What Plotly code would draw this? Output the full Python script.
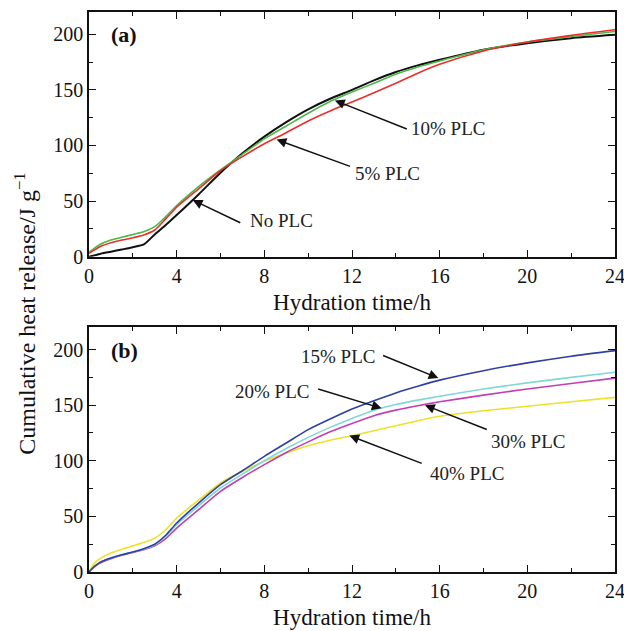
import plotly.graph_objects as go

# ---- Panel (a) data ----
t_a = [0, 0.5, 1, 1.5, 2, 2.5, 3, 3.5, 4, 5, 6, 7, 8, 9, 10, 11, 12, 13, 14, 15, 16, 18, 20, 22, 24]
no_plc = [0, 2.5, 4.5, 6.5, 8.5, 11, 20, 28.5, 37.5, 56, 75.5, 93, 108, 121, 132.5, 142, 150, 158.5, 166, 172, 177, 186, 192, 196.5, 199.5]
plc_5 = [3, 9, 12.5, 15, 17, 19.5, 24, 34, 44.5, 61, 77.5, 90, 101.5, 111.5, 122, 131, 139, 147.5, 156, 165, 173, 185, 193, 199, 204]
plc_10 = [4, 11, 15, 17.5, 20, 22.5, 27, 36, 46, 63, 78, 92, 106, 117.5, 129, 139.5, 148, 156, 164, 170.5, 176, 186, 193, 198, 202.5]

# ---- Panel (b) data ----
t_b = [0, 0.25, 0.5, 1, 1.5, 2, 2.5, 3, 3.5, 4, 5, 6, 7, 8, 9, 10, 11, 12, 13, 14, 15, 16, 18, 20, 22, 24]
plc_15 = [0, 5, 8.5, 12.5, 15.5, 18, 21, 25, 33, 44, 62, 78.5, 91, 104, 116, 128, 137.5, 146.5, 154, 161, 167, 172.5, 181, 188, 194, 199]
plc_20 = [0, 5, 8.5, 12.5, 15.5, 18, 20.5, 24.5, 32, 42.5, 59.5, 75.5, 88, 100, 111, 121, 130, 138, 145.5, 150.5, 154.5, 158, 164.5, 170, 175, 179.6]
plc_30 = [0, 4.5, 8, 12, 15, 17.5, 20, 23.5, 30, 39.5, 56, 72.5, 85, 96.5, 107.5, 117, 126, 133.5, 140.5, 145.5, 149.5, 153, 159, 164.5, 169.5, 174.3]
plc_40 = [0, 8, 12, 17, 20.5, 23.5, 26.5, 30.5, 38, 48.5, 64.5, 80, 90.5, 99.5, 107, 113.5, 118.5, 122.5, 127, 131.5, 136, 140, 145, 149, 153, 157]

x_ticks = [0, 4, 8, 12, 16, 20, 24]
y_ticks = [0, 50, 100, 150, 200]

# annotations: (label, text_x, text_y, arrow_tail_x, arrow_tail_y, head_x, head_y)
ann_a = [
    ("No PLC", 8.8, 32.9, 6.97, 29.9, 4.73, 50.9),
    ("5% PLC", 13.64, 74.8, 11.98, 80.7, 8.56, 105.3),
    ("10% PLC", 16.38, 115.2, 14.57, 114.3, 11.22, 140.5),
]
ann_b = [
    ("15% PLC", 11.36, 193.4, 13.35, 195.2, 15.94, 174.3),
    ("20% PLC", 8.35, 162.0, 10.39, 165.0, 13.35, 147.1),
    ("30% PLC", 20.03, 117.1, 18.22, 127.6, 15.33, 150.0),
    ("40% PLC", 17.23, 88.8, 15.25, 97.1, 11.88, 122.6),
]

FONT = "Liberation Serif"

fig = go.Figure()

def add_line(x, y, color, width, xa, ya, name):
    fig.add_trace(go.Scatter(x=x, y=y, mode="lines", name=name,
                             line=dict(color=color, width=width, shape="spline", smoothing=0.6),
                             xaxis=xa, yaxis=ya, showlegend=False))

add_line(t_a, no_plc, "#111111", 2.0, "x", "y", "No PLC")
add_line(t_a, plc_10, "#4cb848", 1.6, "x", "y", "10% PLC")
add_line(t_a, plc_5, "#e8302a", 1.6, "x", "y", "5% PLC")

add_line(t_b, plc_40, "#ece22a", 1.6, "x2", "y2", "40% PLC")
add_line(t_b, plc_30, "#c040b0", 1.6, "x2", "y2", "30% PLC")
add_line(t_b, plc_20, "#80d8d4", 1.6, "x2", "y2", "20% PLC")
add_line(t_b, plc_15, "#2e40a0", 1.6, "x2", "y2", "15% PLC")

annotations = []
for group, (xr, yr) in ((ann_a, ("x", "y")), (ann_b, ("x2", "y2"))):
    for lab, tx, ty, ax, ay, hx, hy in group:
        annotations.append(dict(x=tx, y=ty, xref=xr, yref=yr, text=lab, showarrow=False,
                                font=dict(family=FONT, size=19, color="#222")))
        annotations.append(dict(x=hx, y=hy, ax=ax, ay=ay, xref=xr, yref=yr, axref=xr, ayref=yr,
                                text="", showarrow=True, arrowhead=2, arrowsize=1.3,
                                arrowwidth=1.5, arrowcolor="#111"))

annotations.append(dict(x=1.6, y=199.5, xref="x", yref="y", text="<b>(a)</b>", showarrow=False,
                        font=dict(family=FONT, size=22, color="#111")))
annotations.append(dict(x=1.6, y=199.5, xref="x2", yref="y2", text="<b>(b)</b>", showarrow=False,
                        font=dict(family=FONT, size=22, color="#111")))
annotations.append(dict(x=-0.122, y=0.461, xref="paper", yref="paper",
                        text="Cumulative heat release/J g<sup>\u22121</sup>",
                        textangle=-90, showarrow=False, xanchor="center", yanchor="middle",
                        font=dict(family=FONT, size=24, color="#111")))

axis_common = dict(showgrid=False, zeroline=False, showline=True, linecolor="#111", linewidth=1.6,
                   mirror="ticks", ticks="inside", ticklen=7, tickwidth=1.3, tickcolor="#111",
                   automargin=False, ticklabeloverflow="allow",
                   tickfont=dict(family=FONT, size=20, color="#111"))

xaxis = dict(axis_common, range=[0, 24], tickvals=x_ticks,
             minor=dict(ticks="inside", ticklen=4, dtick=2, tickcolor="#111", tickwidth=1.2),
             title=dict(text="Hydration time/h", font=dict(family=FONT, size=23, color="#111"), standoff=8))
yaxis = dict(axis_common, range=[0, 220], tickvals=y_ticks,
             minor=dict(ticks="inside", ticklen=4, dtick=25, tickcolor="#111", tickwidth=1.2))

fig.update_layout(
    width=624, height=631,
    margin=dict(l=89, r=9, t=12, b=59, autoexpand=False),
    paper_bgcolor="white", plot_bgcolor="white",
    xaxis=dict(xaxis, domain=[0, 1], anchor="y"),
    yaxis=dict(yaxis, domain=[0.563, 1], anchor="x"),
    xaxis2=dict(xaxis, domain=[0, 1], anchor="y2"),
    yaxis2=dict(yaxis, domain=[0, 0.437], anchor="x2"),
    annotations=annotations,
)

fig.write_html("out.html",
               config={"displayModeBar": False},
               post_script="document.body.style.margin='0';document.body.style.overflow='hidden';")
